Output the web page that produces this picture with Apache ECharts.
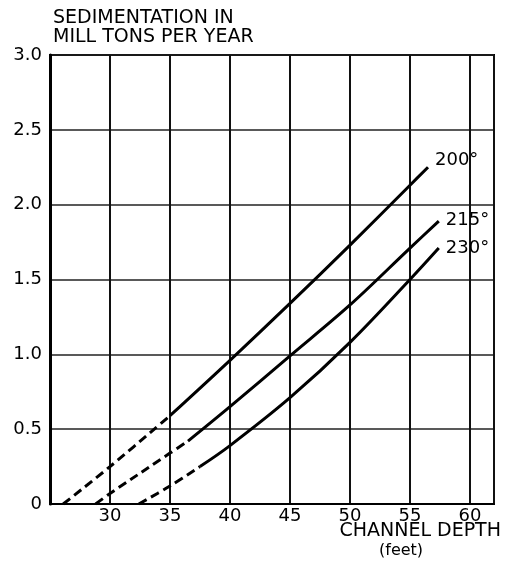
<!DOCTYPE html>
<html>
<head>
<meta charset="utf-8">
<style>html,body{margin:0;padding:0;background:#fff;}#c{width:506px;height:570px;}</style>
<script src="https://cdn.jsdelivr.net/npm/echarts@6/dist/echarts.min.js"></script>
</head>
<body>
<div id="c"></div>
<script>
// ---- data ----
const yTicks = [0, 0.5, 1.0, 1.5, 2.0, 2.5, 3.0];
const xTicks = [30, 35, 40, 45, 50, 55, 60];
const curveNames = ['200°', '215°', '230°'];
// dashed (extrapolated) and solid parts of each curve: [channel depth ft, sedimentation]
const curve200Dashed = [[26.1, 0], [30, 0.25], [35, 0.59]];
const curve200Solid  = [[35, 0.59], [40, 0.96], [45, 1.34], [50, 1.73], [55, 2.13], [56.5, 2.25]];
const curve215Dashed = [[28.8, 0], [30, 0.07], [35, 0.34], [36.5, 0.42]];
const curve215Solid  = [[36.5, 0.42], [40, 0.65], [45, 0.99], [50, 1.33], [55, 1.71], [57.4, 1.89]];
const curve230Dashed = [[32.4, 0], [35, 0.12], [37.5, 0.25]];
const curve230Solid  = [[37.5, 0.25], [40, 0.39], [45, 0.71], [50, 1.08], [55, 1.50], [57.4, 1.71]];
const yTitle = ['SEDIMENTATION IN', 'MILL TONS PER YEAR'];
const xTitle = ['CHANNEL DEPTH', '(feet)'];

const FONT = '"DejaVu Sans", Arial, sans-serif';
const chart = echarts.init(document.getElementById('c'), null, {renderer: 'canvas'});

function dashed(data) {
  return {type: 'line', data: data, smooth: 0.35, showSymbol: false, silent: true,
    lineStyle: {color: '#000', width: 3, type: [9, 5], cap: 'butt'}};
}
function solid(data, name, offset) {
  return {type: 'line', name: name, data: data, smooth: 0.35, showSymbol: false, silent: true,
    lineStyle: {color: '#000', width: 3},
    endLabel: {show: true, formatter: name, color: '#000', fontFamily: FONT, fontSize: 18,
      distance: 7, offset: offset}};
}

chart.setOption({
  animation: false,
  backgroundColor: '#fff',
  grid: {left: 50, right: 12, top: 55, bottom: 66, show: true, borderColor: '#000', borderWidth: 2, backgroundColor: 'transparent'},
  xAxis: {
    type: 'value', min: 25, max: 62, interval: 5,
    axisLine: {show: true, onZero: false, lineStyle: {color: '#000', width: 2}},
    axisTick: {show: false},
    splitLine: {show: true, lineStyle: {color: '#111', width: 2}},
    axisLabel: {color: '#000', fontFamily: FONT, fontSize: 18, margin: 3, showMaxLabel: false,
      formatter: v => xTicks.indexOf(v) >= 0 ? String(v) : ''}
  },
  yAxis: {
    type: 'value', min: 0, max: 3, interval: 0.5,
    axisLine: {show: true, lineStyle: {color: '#000', width: 3}},
    axisTick: {show: false},
    splitLine: {show: true, lineStyle: {color: '#222', width: 1.5}},
    axisLabel: {color: '#000', fontFamily: FONT, fontSize: 18, margin: 8,
      formatter: v => { const t = yTicks.find(k => Math.abs(k - v) < 1e-9); return t === 0 ? '0' : t.toFixed(1); }}
  },
  graphic: [
    {type: 'text', left: 53, top: 9, style: {text: yTitle.join('\n'), fill: '#000', font: '19px ' + FONT, lineHeight: 19}},
    {type: 'text', right: 5, top: 522, style: {text: xTitle[0], fill: '#000', font: '19px ' + FONT}},
    {type: 'text', left: 379, top: 543, style: {text: xTitle[1], fill: '#000', font: '16px ' + FONT}}
  ],
  series: [
    dashed(curve200Dashed), solid(curve200Solid, curveNames[0], [0, -7]),
    dashed(curve215Dashed), solid(curve215Solid, curveNames[1], [0, -1]),
    dashed(curve230Dashed), solid(curve230Solid, curveNames[2], [0, 0])
  ]
});
</script>
</body>
</html>
